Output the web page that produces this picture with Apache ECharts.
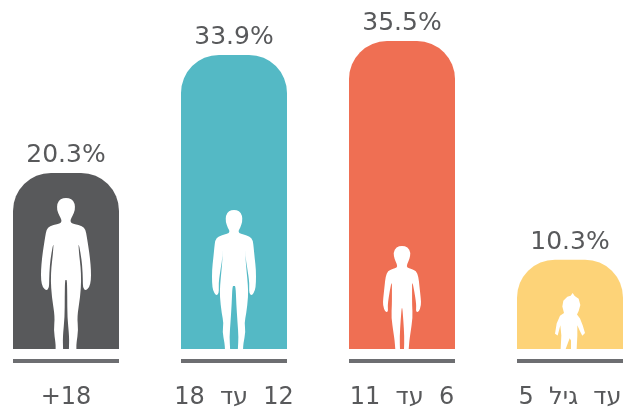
<!DOCTYPE html>
<html>
<head>
<meta charset="utf-8">
<style>
  html, body { margin: 0; padding: 0; background: #fff; }
  #chart { width: 630px; height: 408px; }
</style>
<script src="https://cdn.jsdelivr.net/npm/echarts@6/dist/echarts.min.js"></script>
</head>
<body>
<div id="chart"></div>
<script>
const categories = ['+18', '\u202B12  עד  18\u202C', '\u202B6  עד  11\u202C', '\u202Bעד  גיל  5\u202C'];
const values = [20.3, 33.9, 35.5, 10.3];
const ruleValues = [1, 1, 1, 1];
const colors = ['#58595b', '#54b9c5', '#ef6f53', '#fdd378'];

// right half of each silhouette, mirrored below
const adultHalf = [[198,203],[215,206],[225,220],[226,240],[218,258],[212,268],[212,278],[225,282],[248,288],[258,298],[262,320],[267,350],[272,385],[275,420],[275,450],[270,472],[258,482],[250,474],[250,450],[248,405],[243,370],[236,335],[238,370],[243,410],[245,450],[242,500],[232,560],[236,600],[230,640],[230,657],[230,657],[207,657],[207,657],[208,620],[202,560],[202,500],[201,450],[198,450]];
const teenHalf = [[191,30],[207,33],[216,47],[217,65],[210,85],[205,92],[206,100],[220,104],[240,110],[249,120],[252,145],[255,175],[259,210],[259,250],[256,272],[247,287],[238,282],[238,262],[238,245],[232,205],[226,170],[226,128],[226,170],[230,215],[234,255],[235,290],[229,340],[223,370],[227,395],[220,430],[219,447],[219,447],[203,447],[203,447],[205,410],[202,370],[198,310],[196,258],[191,258]];
const childHalf = [[186,48],[203,52],[212,68],[208,90],[200,105],[201,113],[214,118],[228,123],[235,140],[238,170],[242,205],[243,225],[236,247],[227,245],[229,225],[222,180],[216,152],[216,190],[216,225],[218,260],[211,310],[208,330],[206,356],[206,356],[192,356],[192,356],[193,320],[190,270],[186,222]];
const toddlerPath = 'M218 205 L224 214 L236 222 L241 240 L236 258 L231 268 L240 280 L248 300 L255 323 L247 331 L240 318 L232 300 L232 330 L230 370 L213 370 L213 345 L209 338 L197 370 L182 370 L184 330 L181 300 L173 330 L165 325 L170 295 L180 272 L192 264 L187 245 L190 228 L202 216 L212 213 Z';
const figureSizes = [[50, 151], [44, 139], [38, 103], [30, 56]];

function mirrored(half) {
  const cx = half[0][0];
  const left = half.slice(1, -1).reverse().map(p => [2 * cx - p[0], p[1]]);
  const pts = half.concat(left);
  // smooth through the midpoints so the outline doesn't look polygonal
  const mid = (a, b) => ((a[0] + b[0]) / 2) + ' ' + ((a[1] + b[1]) / 2);
  let d = 'M' + mid(pts[pts.length - 1], pts[0]);
  pts.forEach((p, i) => {
    d += ' Q' + p[0] + ' ' + p[1] + ' ' + mid(p, pts[(i + 1) % pts.length]);
  });
  return d + ' Z';
}

const figures = [mirrored(adultHalf), mirrored(teenHalf), mirrored(childHalf), toddlerPath];

const chart = echarts.init(document.getElementById('chart'));
chart.setOption({
  animation: false,
  backgroundColor: '#fff',
  textStyle: { fontFamily: 'DejaVu Sans' },
  grid: [
    { left: -18, width: 672, top: 2, height: 347, outerBoundsMode: 'none' },
    { left: -18, width: 672, top: 359, height: 4, outerBoundsMode: 'none' }
  ],
  xAxis: [
    { type: 'category', gridIndex: 0, data: categories, show: false },
    {
      type: 'category',
      gridIndex: 1,
      data: categories,
      axisLine: { show: false },
      axisTick: { show: false },
      axisLabel: { color: '#58595b', fontSize: 24, margin: 23, interval: 0 }
    }
  ],
  yAxis: [
    { type: 'value', gridIndex: 0, min: 0, max: 40, show: false },
    { type: 'value', gridIndex: 1, min: 0, max: 1, show: false }
  ],
  series: [
    {
      type: 'bar',
      xAxisIndex: 0,
      yAxisIndex: 0,
      barWidth: 106,
      data: values.map((v, i) => ({ value: v, itemStyle: { color: colors[i] } })),
      itemStyle: { borderRadius: [38, 38, 0, 0] },
      label: {
        show: true,
        position: 'top',
        distance: 5,
        color: '#58595b',
        fontSize: 25,
        formatter: p => p.value + '%'
      }
    },
    {
      type: 'pictorialBar',
      xAxisIndex: 0,
      yAxisIndex: 0,
      symbolPosition: 'start',
      z: 5,
      data: values.map((v, i) => ({
        value: v,
        symbol: 'path://' + figures[i],
        symbolSize: figureSizes[i]
      })),
      itemStyle: { color: '#fff' }
    },
    {
      type: 'bar',
      xAxisIndex: 1,
      yAxisIndex: 1,
      barWidth: 106,
      data: ruleValues,
      itemStyle: { color: '#6d6e71' }
    }
  ]
});
</script>
</body>
</html>
